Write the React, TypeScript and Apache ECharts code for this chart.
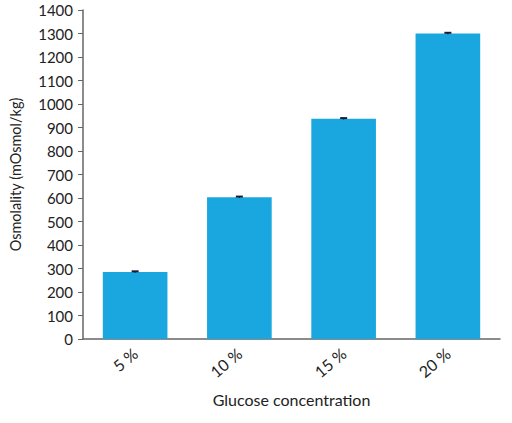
import React, { useEffect, useRef } from "react";
import * as echarts from "echarts";

const categories = ["5 %", "10 %", "15 %", "20 %"];
const values = [285, 603, 937, 1300];
const errors = [3, 3, 3, 3];

export default function App() {
  const ref = useRef<HTMLDivElement>(null);
  useEffect(() => {
    const chart = echarts.init(ref.current!, null, { renderer: "svg" });
    const font = "Lato, 'Noto Sans', sans-serif";
    chart.setOption({
      animation: false,
      grid: { left: 80, right: 12, top: 10, bottom: 84 },
      xAxis: {
        type: "category",
        data: categories,
        axisLine: { lineStyle: { color: "#666", width: 1.5 } },
        axisTick: { show: false },
        axisLabel: { rotate: 40, color: "#222", fontSize: 16, fontFamily: font, margin: 12 },
        name: "Glucose concentration",
        nameLocation: "middle",
        nameGap: 52,
        nameTextStyle: { color: "#222", fontSize: 16, fontFamily: font },
      },
      yAxis: {
        type: "value",
        min: 0,
        max: 1400,
        interval: 100,
        axisLine: { show: true, lineStyle: { color: "#666", width: 1.5 } },
        axisTick: { show: true, length: 5, lineStyle: { color: "#666" } },
        splitLine: { show: false },
        axisLabel: { color: "#222", fontSize: 15, fontFamily: font, margin: 10, formatter: (v: number) => String(v) },
        name: "Osmolality (mOsmol/kg)",
        nameLocation: "middle",
        nameGap: 60,
        nameTextStyle: { color: "#222", fontSize: 14.5, fontFamily: font },
      },
      series: [
        {
          type: "bar",
          data: values,
          barWidth: "62%",
          itemStyle: { color: "#1aa7e0" },
        },
        {
          type: "custom",
          data: values.map((v, i) => [i, v - errors[i], v + errors[i]]),
          renderItem: (params: any, api: any) => {
            const x = api.value(0);
            const lo = api.coord([x, api.value(1)]);
            const hi = api.coord([x, api.value(2)]);
            const w = 3.5;
            return {
              type: "group",
              children: [
                { type: "line", shape: { x1: hi[0], y1: lo[1], x2: hi[0], y2: hi[1] }, style: { stroke: "#1a1a3a", lineWidth: 1.2 } },
                { type: "line", shape: { x1: hi[0] - w, y1: hi[1], x2: hi[0] + w, y2: hi[1] }, style: { stroke: "#1a1a3a", lineWidth: 2 } },
              ],
            };
          },
          z: 10,
        },
      ],
    });
    return () => chart.dispose();
  }, []);
  return <div ref={ref} style={{ position: "absolute", left: 0, top: 0, width: 512, height: 423 }} />;
}
